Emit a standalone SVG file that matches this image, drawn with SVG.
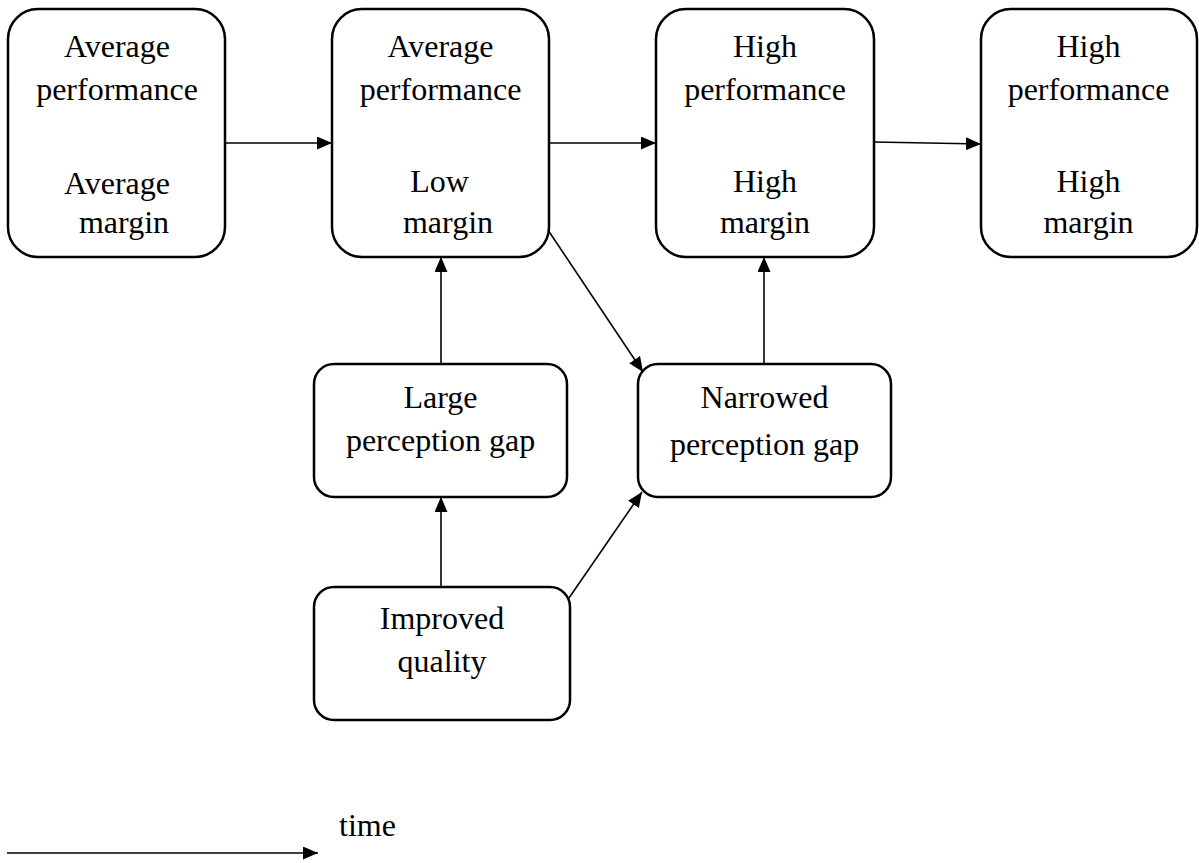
<svg xmlns="http://www.w3.org/2000/svg" width="1199" height="863" viewBox="0 0 1199 863">
<defs>
<marker id="ah" markerUnits="userSpaceOnUse" markerWidth="15" markerHeight="13" refX="15" refY="6.5" orient="auto">
<path d="M0,0 L15,6.5 L0,13 z" fill="#000"/>
</marker>
</defs>
<style>
.box{fill:#fff;stroke:#000;stroke-width:2.5}
.t{font-family:"Liberation Serif","Times New Roman",serif;font-size:32px;fill:#000;text-anchor:middle}
.c{fill:none;stroke:#000;stroke-width:1.6;marker-end:url(#ah)}
</style>
<rect width="1199" height="863" fill="#fff"/>
<g id="connectors">
<path class="c" d="M225,143 L332,143"/>
<path class="c" d="M549,143 L656,143"/>
<path class="c" d="M874,142 L981,144"/>
<path class="c" d="M441,364 L441,257"/>
<path class="c" d="M764,364 L764,257"/>
<path class="c" d="M548,230 L643,372"/>
<path class="c" d="M441,587 L441,497"/>
<path class="c" d="M569,598 L642,492"/>
<path class="c" d="M7,853 L318,853"/>
</g>
<g id="n1">
<rect class="box" x="8" y="9" width="217" height="248" rx="30" ry="30"/>
<text class="t" x="117" y="57">Average</text>
<text class="t" x="117" y="100">performance</text>
<text class="t" x="117" y="194">Average</text>
<text class="t" x="124" y="233">margin</text>
</g>
<g id="n2">
<rect class="box" x="332" y="9" width="217" height="248" rx="30" ry="30"/>
<text class="t" x="440.5" y="57">Average</text>
<text class="t" x="440.5" y="100">performance</text>
<text class="t" x="439.5" y="192">Low</text>
<text class="t" x="448" y="233">margin</text>
</g>
<g id="n3">
<rect class="box" x="656" y="9" width="218" height="248" rx="30" ry="30"/>
<text class="t" x="765" y="57">High</text>
<text class="t" x="765" y="100">performance</text>
<text class="t" x="765" y="192">High</text>
<text class="t" x="765" y="233">margin</text>
</g>
<g id="n4">
<rect class="box" x="981" y="9" width="216" height="248" rx="30" ry="30"/>
<text class="t" x="1088.5" y="57">High</text>
<text class="t" x="1088.5" y="100">performance</text>
<text class="t" x="1088.5" y="192">High</text>
<text class="t" x="1088.5" y="233">margin</text>
</g>
<g id="n5">
<rect class="box" x="314" y="364" width="253" height="133" rx="20" ry="20"/>
<text class="t" x="440.5" y="408">Large</text>
<text class="t" x="440.5" y="451">perception gap</text>
</g>
<g id="n6">
<rect class="box" x="638" y="364" width="253" height="133" rx="20" ry="20"/>
<text class="t" x="764.5" y="408">Narrowed</text>
<text class="t" x="764.5" y="455">perception gap</text>
</g>
<g id="n7">
<rect class="box" x="314" y="587" width="256" height="133" rx="20" ry="20"/>
<text class="t" x="442" y="629">Improved</text>
<text class="t" x="442" y="672">quality</text>
</g>
<g id="time">
<text x="339" y="836" font-family="Liberation Serif, Times New Roman, serif" font-size="32" fill="#000">time</text>
</g>
</svg>
